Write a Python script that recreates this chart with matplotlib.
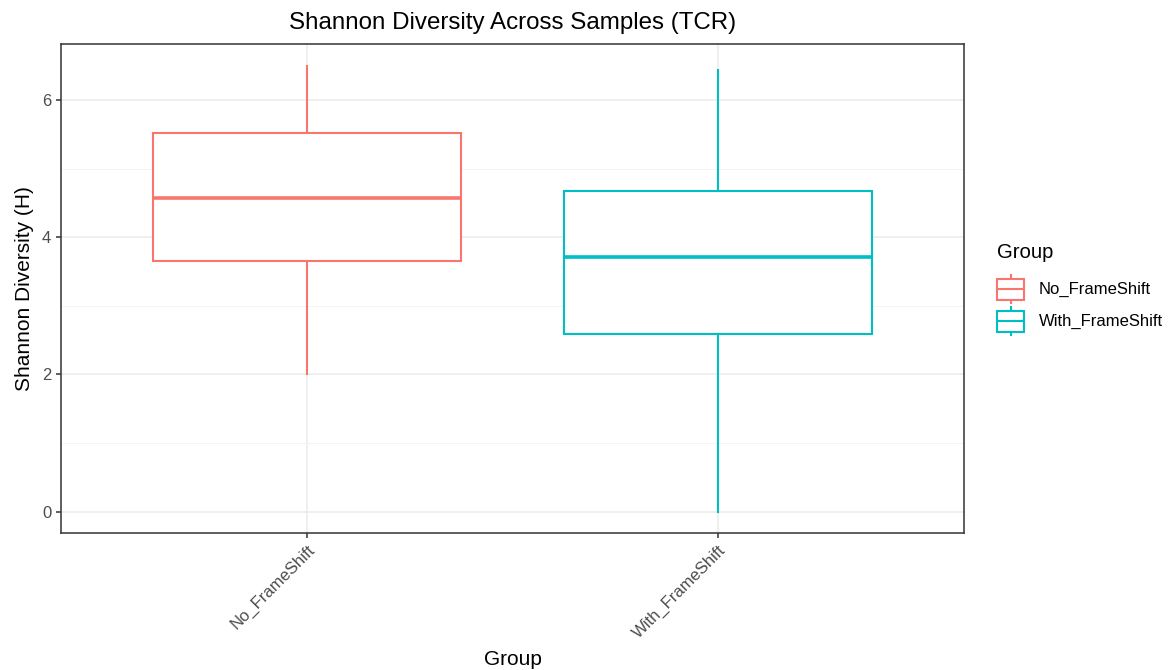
import matplotlib
matplotlib.use("Agg")
import matplotlib.pyplot as plt
from matplotlib.patches import Rectangle
from matplotlib.lines import Line2D

plt.rcParams['font.family'] = ['Liberation Sans', 'DejaVu Sans']

groups = ["No_FrameShift", "With_FrameShift"]
colors = ["#F8766D", "#00BFC4"]
whislo = [2.00, 0.00]
q1 = [3.65, 2.59]
med = [4.58, 3.71]
q3 = [5.52, 4.67]
whishi = [6.50, 6.44]

W, H = 1172, 670
fig = plt.figure(figsize=(W/100, H/100), dpi=100)
ax = fig.add_axes([61/W, 1-533.3/H, (964-61)/W, (533.3-44)/H])

width = 0.75
for i, g in enumerate(groups):
    c = colors[i]
    s = dict(label=g, whislo=whislo[i], q1=q1[i], med=med[i], q3=q3[i], whishi=whishi[i], fliers=[])
    ax.bxp([s], positions=[i+1], widths=width, showcaps=False, patch_artist=True,
           boxprops=dict(facecolor='white', edgecolor=c, linewidth=1.5, zorder=3),
           whiskerprops=dict(color=c, linewidth=1.5, zorder=3),
           medianprops=dict(linewidth=0, alpha=0),
           manage_ticks=False)
    ax.hlines(med[i], i+1-width/2, i+1+width/2, colors=c, linewidth=2.6, zorder=6)

ax.set_xlim(0.4, 2.6)
ax.set_ylim(-0.315, 6.818)
ax.set_xticks([1, 2])
ax.set_xticklabels(groups, rotation=45, ha='right', rotation_mode='anchor')
ax.set_yticks([0, 2, 4, 6])
ax.set_yticks([1, 3, 5], minor=True)
ax.grid(True, which='major', color='#EBEBEB', linewidth=1.1, zorder=0)
ax.grid(True, which='minor', axis='y', color='#F3F3F3', linewidth=0.6, zorder=0)
ax.set_axisbelow(True)
for sp in ax.spines.values():
    sp.set_color('#333333')
    sp.set_linewidth(1.1)
ax.tick_params(axis='both', which='major', color='#333333', length=3.5, width=1.1,
               labelcolor='#4D4D4D', labelsize=12)
ax.tick_params(axis='y', which='minor', length=0)
ax.tick_params(axis='x', pad=3)

ax.set_title("Shannon Diversity Across Samples (TCR)", fontsize=17.4, pad=11)
ax.set_xlabel("Group", fontsize=15, labelpad=6.5)
ax.set_ylabel("Shannon Diversity (H)", fontsize=15, labelpad=6)

# legend drawn in a pixel-coordinate overlay axes
lax = fig.add_axes([0, 0, 1, 1])
lax.set_xlim(0, W)
lax.set_ylim(H, 0)
lax.axis('off')
lax.text(997, 253, "Group", fontsize=14.6, ha='left', va='center')
key_centers = [289, 321]
for c, g, yc in zip(colors, groups, key_centers):
    x0, x1 = 997, 1024
    xc = (x0 + x1) / 2
    lax.add_line(Line2D([xc, xc], [yc - 14, yc - 10.5], color=c, linewidth=1.5))
    lax.add_line(Line2D([xc, xc], [yc + 10.5, yc + 14], color=c, linewidth=1.5))
    lax.add_patch(Rectangle((x0, yc - 10.5), x1 - x0, 21, facecolor='white', edgecolor=c, linewidth=1.5))
    lax.add_line(Line2D([x0, x1], [yc, yc], color=c, linewidth=1.5))
    lax.text(1039, yc, g, fontsize=12, ha='left', va='center')

fig.savefig("out.png", dpi=100)
